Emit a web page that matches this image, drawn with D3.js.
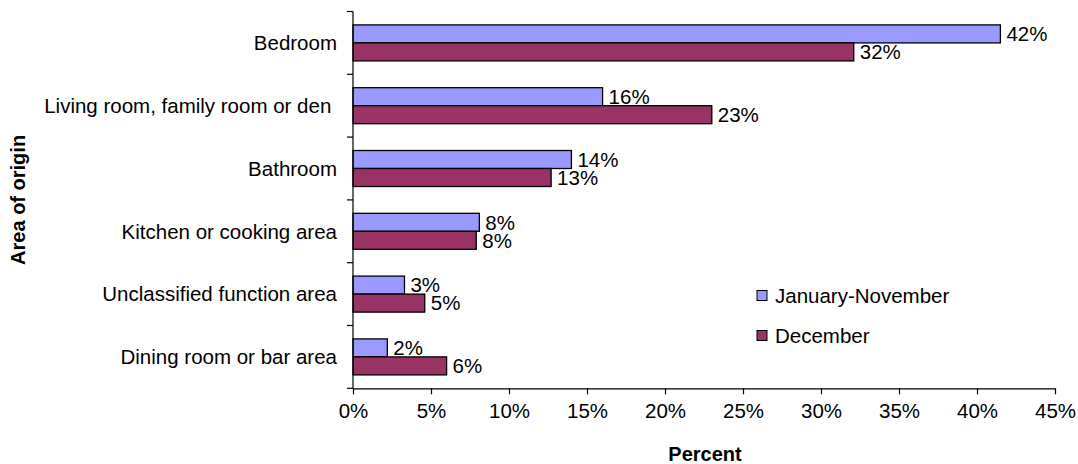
<!DOCTYPE html>
<html>
<head>
<meta charset="utf-8">
<script src="https://cdn.jsdelivr.net/npm/d3@7"></script>
<style>
  html, body { margin: 0; padding: 0; background: #fff; }
  svg { display: block; font-family: "Liberation Sans", Arial, sans-serif; }
</style>
</head>
<body>
<svg id="chart" width="1078" height="464"></svg>
<script>
const categories = ["Bedroom", "Living room, family room or den ", "Bathroom", "Kitchen or cooking area", "Unclassified function area", "Dining room or bar area"];
const janNov = [41.5, 16.0, 14.0, 8.1, 3.3, 2.2];
const december = [32.1, 23.0, 12.7, 7.9, 4.6, 6.0];
const janNovLabels = ["42%", "16%", "14%", "8%", "3%", "2%"];
const decemberLabels = ["32%", "23%", "13%", "8%", "5%", "6%"];
const seriesNames = ["January-November", "December"];
const seriesColors = ["#9999FF", "#993366"];
const xTicks = [0, 5, 10, 15, 20, 25, 30, 35, 40, 45];

(function () {
const svg = d3.select("#chart");
const mLeft = 353, mRight = 1055, mTop = 11.5, mBottom = 388.3;
const fs = "20.5px";

const x = d3.scaleLinear().domain([0, 45]).range([mLeft, mRight]);
const y = d3.scaleBand().domain(categories).range([mTop, mBottom]);
const inner = d3.scaleBand().domain(seriesNames).range([0, 36]);
const innerOffset = (y.bandwidth() - 36) / 2;

const series = [
  { name: seriesNames[0], values: janNov, labels: janNovLabels, color: seriesColors[0] },
  { name: seriesNames[1], values: december, labels: decemberLabels, color: seriesColors[1] }
];

// bars
series.forEach(s => {
  const g = svg.append("g");
  g.selectAll("rect").data(categories).enter().append("rect")
    .attr("x", x(0))
    .attr("y", d => y(d) + innerOffset + inner(s.name))
    .attr("width", (d, i) => x(s.values[i]) - x(0))
    .attr("height", inner.bandwidth())
    .attr("fill", s.color)
    .attr("stroke", "#000")
    .attr("stroke-width", 1.3);
  g.selectAll("text").data(categories).enter().append("text")
    .attr("x", (d, i) => x(s.values[i]) + 6)
    .attr("y", d => y(d) + innerOffset + inner(s.name) + inner.bandwidth() / 2)
    .attr("dy", "0.36em")
    .attr("font-size", fs)
    .attr("fill", "#000")
    .text((d, i) => s.labels[i]);
});

// x axis
const xAxis = d3.axisBottom(x).tickValues(xTicks).tickFormat(d => d + "%").tickSize(6).tickSizeOuter(0);
const gx = svg.append("g").attr("transform", `translate(0,${mBottom})`).call(xAxis);
gx.select(".domain").attr("stroke", "#000").attr("stroke-width", 1.2);
gx.selectAll(".tick line").attr("stroke", "#000").attr("stroke-width", 1.2);
gx.selectAll(".tick text").attr("font-size", fs).attr("fill", "#000").attr("font-family", "Liberation Sans, Arial, sans-serif").attr("y", 22).attr("dy", "0.36em");

// y axis: ticks at band boundaries
const yBoundaries = categories.map(c => y(c)).concat([mBottom]);
svg.append("line").attr("x1", mLeft).attr("x2", mLeft).attr("y1", mTop).attr("y2", mBottom)
  .attr("stroke", "#000").attr("stroke-width", 1.2);
svg.append("g").selectAll("line").data(yBoundaries).enter().append("line")
  .attr("x1", mLeft - 6).attr("x2", mLeft).attr("y1", d => d).attr("y2", d => d)
  .attr("stroke", "#000").attr("stroke-width", 1.2);

// category labels
svg.append("g").selectAll("text").data(categories).enter().append("text")
  .attr("x", 337)
  .attr("y", d => y(d) + y.bandwidth() / 2)
  .attr("dy", "0.36em")
  .attr("text-anchor", "end")
  .attr("font-size", fs)
  .attr("fill", "#000")
  .style("white-space", "pre")
  .text(d => d);

// axis titles
svg.append("text")
  .attr("x", 705).attr("y", 461)
  .attr("text-anchor", "middle")
  .attr("font-size", "20px").attr("font-weight", "bold").attr("fill", "#000")
  .text("Percent");
svg.append("text")
  .attr("transform", `translate(25,${(mTop + mBottom) / 2}) rotate(-90)`)
  .attr("text-anchor", "middle")
  .attr("font-size", "20px").attr("font-weight", "bold").attr("fill", "#000")
  .text("Area of origin");

// legend
const legend = svg.append("g");
const legendY = [295.5, 335.5];
series.forEach((s, i) => {
  legend.append("rect")
    .attr("x", 757).attr("y", legendY[i] - 5)
    .attr("width", 10).attr("height", 10)
    .attr("fill", s.color).attr("stroke", "#000").attr("stroke-width", 1);
  legend.append("text")
    .attr("x", 775).attr("y", legendY[i])
    .attr("dy", "0.36em")
    .attr("font-size", fs).attr("fill", "#000")
    .text(s.name);
});
})();
</script>
</body>
</html>
